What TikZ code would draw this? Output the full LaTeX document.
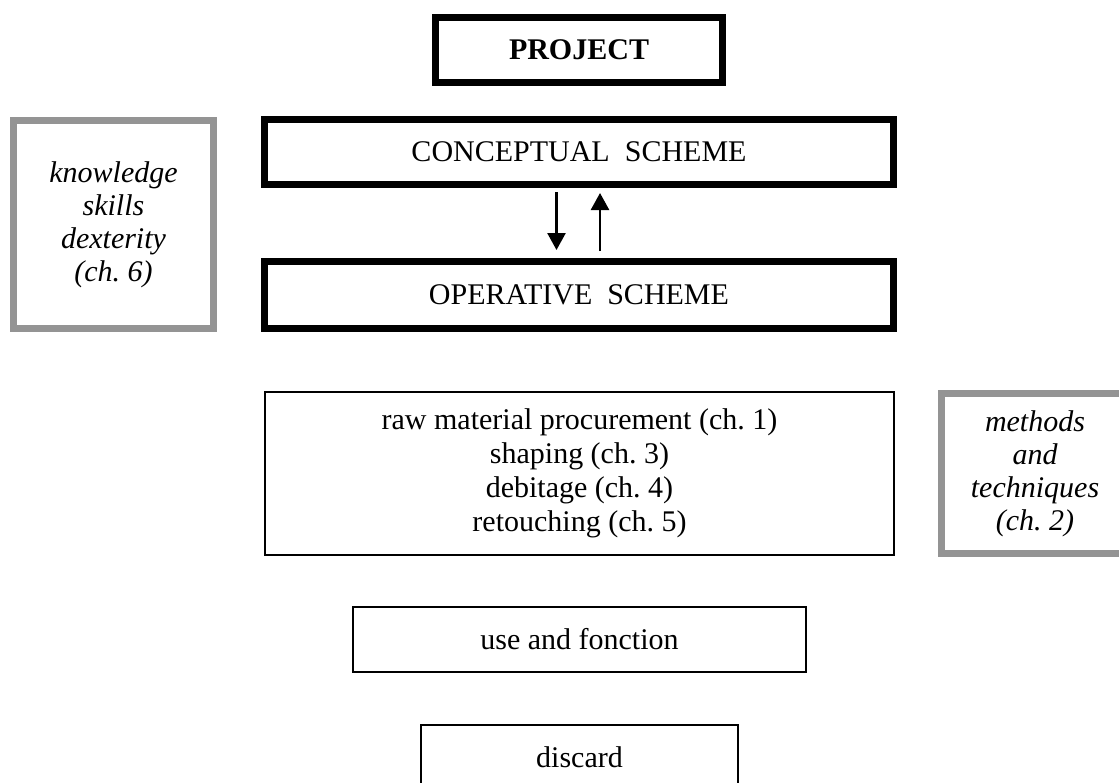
\documentclass[tikz,border=0pt]{standalone}
\usepackage{fontspec}
\setmainfont{Liberation Serif}
\usetikzlibrary{arrows.meta}
\frenchspacing
\begin{document}
\begin{tikzpicture}[x=1pt,y=-1pt,
  txt/.style={font=\fontsize{30}{34}\selectfont, align=center},
  thickbox/.style={draw=black, line width=7pt, rectangle, inner sep=0pt, outer sep=0pt, txt},
  thinbox/.style={draw=black, line width=2pt, rectangle, inner sep=0pt, outer sep=0pt, txt},
  graybox/.style={draw=black!42, line width=7pt, rectangle, inner sep=0pt, outer sep=0pt, txt, font=\fontsize{30}{33}\selectfont\itshape},
  flow/.style={line width=2.5pt, -{Triangle[width=18pt,length=17pt]}}
]
\useasboundingbox (0,0) rectangle (1119,782);
\clip (0,0) rectangle (1119,782);
\fill[white] (0,0) rectangle (1119,782);

\node[thickbox, minimum width=287pt, minimum height=65pt] (proj) at (579,50) {\textbf{PROJECT}};
\node[thickbox, minimum width=629pt, minimum height=65pt] (conc) at (579,152) {CONCEPTUAL\ \ SCHEME};
\node[thickbox, minimum width=629pt, minimum height=67pt] (oper) at (579,295) {OPERATIVE\ \ SCHEME};

\node[graybox, minimum width=200pt, minimum height=208pt] (know) at (113.5,224.5)
  {knowledge\\skills\\dexterity\\(ch. 6)};

\node[thinbox, minimum width=629pt, minimum height=163pt] (raw) at (579.5,473.5)
  {raw material procurement (ch. 1)\\shaping (ch. 3)\\debitage (ch. 4)\\retouching (ch. 5)};

\node[graybox, minimum width=187pt, minimum height=160pt] (meth) at (1035,473.5)
  {methods\\and\\techniques\\(ch. 2)};

\node[thinbox, minimum width=453pt, minimum height=65pt] (use) at (579.5,639)
  {use and fonction};

\node[thinbox, minimum width=317pt, minimum height=65pt] (disc) at (579.5,757)
  {discard};

\draw[flow, shorten <=7.5pt, shorten >=11.5pt] ([xshift=-22.5pt]conc.south) -- ([xshift=-22.5pt]oper.north);
\draw[flow, shorten <=10.5pt, shorten >=8.5pt] ([xshift=21pt]oper.north) -- ([xshift=21pt]conc.south);
\end{tikzpicture}
\end{document}
